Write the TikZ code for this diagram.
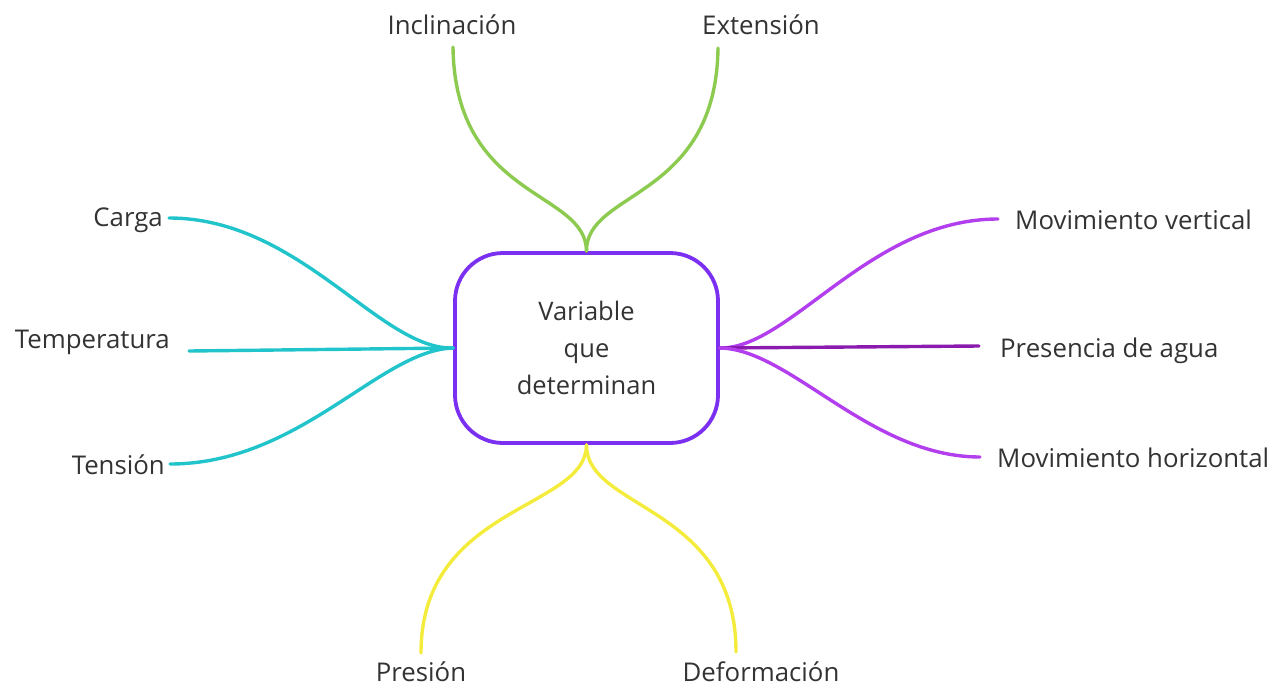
\documentclass[tikz,border=0pt]{standalone}
\usepackage{fontspec}
\setmainfont{Open Sans}
\definecolor{txt}{HTML}{333333}
\definecolor{hub}{HTML}{7B2FF0}
\definecolor{cy}{HTML}{22C4CC}
\definecolor{gr}{HTML}{8DCB50}
\definecolor{ye}{HTML}{F4EC3C}
\definecolor{vi}{HTML}{B23EEE}
\definecolor{vd}{HTML}{8A1BAE}
\begin{document}
\begin{tikzpicture}[x=1pt,y=-1pt,
  lbl/.style={font=\fontsize{25.8}{30}\selectfont, text=txt, inner sep=0pt},
  branch/.style={line width=3.4pt, line cap=round}]
\useasboundingbox (0,0) rectangle (1282,686);

% central topic
\node[draw=hub, line width=3.8pt, rounded corners=48pt, minimum width=263pt,
      minimum height=190pt, align=center, text=txt,
      font=\fontsize{25.5}{37}\selectfont] (core) at (586.5,348)
      {Variable\\que\\determinan};

% labels
\node[lbl] (incl) at (452,25) {Inclinación};
\node[lbl] (ext)  at (761,25) {Extensión};
\node[lbl, anchor=east] (carga) at (163,220) {Carga};
\node[lbl, anchor=east] (temp)  at (170,342) {Temperatura};
\node[lbl, anchor=east] (tens)  at (165,465) {Tensión};
\node[lbl, anchor=west] (mv) at (1015,220) {Movimiento vertical};
\node[lbl, anchor=west] (pa) at (1000,351) {Presencia de agua};
\node[lbl, anchor=west] (mh) at (997,458) {Movimiento horizontal};
\node[lbl] (pres) at (421,672) {Presión};
\node[lbl] (def)  at (761,672) {Deformación};

% branch end points
\coordinate (eIncl) at (453,47);
\coordinate (eExt)  at (718,48);
\coordinate (eCar)  at (169,218);
\coordinate (eTem)  at (189,351);
\coordinate (eTen)  at (170,464);
\coordinate (eMv)   at (998,219);
\coordinate (ePa)   at (979,346);
\coordinate (eMh)   at (980,457);
\coordinate (ePre)  at (421,653);
\coordinate (eDef)  at (736,652);

% upper branches
\draw[branch, gr] (core.north) .. controls (586,190) and (455,200) .. (eIncl);
\draw[branch, gr] (core.north) .. controls (586,190) and (716,200) .. (eExt);

% lower branches
\draw[branch, ye] (core.south) .. controls (586,510) and (421,505) .. (ePre);
\draw[branch, ye] (core.south) .. controls (586,510) and (736,505) .. (eDef);

% left branches
\draw[branch, cy] (core.west) .. controls (380,350) and (300,218) .. (eCar);
\draw[branch, cy] (core.west) -- (eTem);
\draw[branch, cy] (core.west) .. controls (380,350) and (300,464) .. (eTen);

% right branches
\draw[branch, vi] (core.east) .. controls (790,349) and (870,219) .. (eMv);
\draw[branch, vd] (core.east) -- (ePa);
\draw[branch, vi] (core.east) .. controls (790,349) and (870,457) .. (eMh);
\end{tikzpicture}
\end{document}
